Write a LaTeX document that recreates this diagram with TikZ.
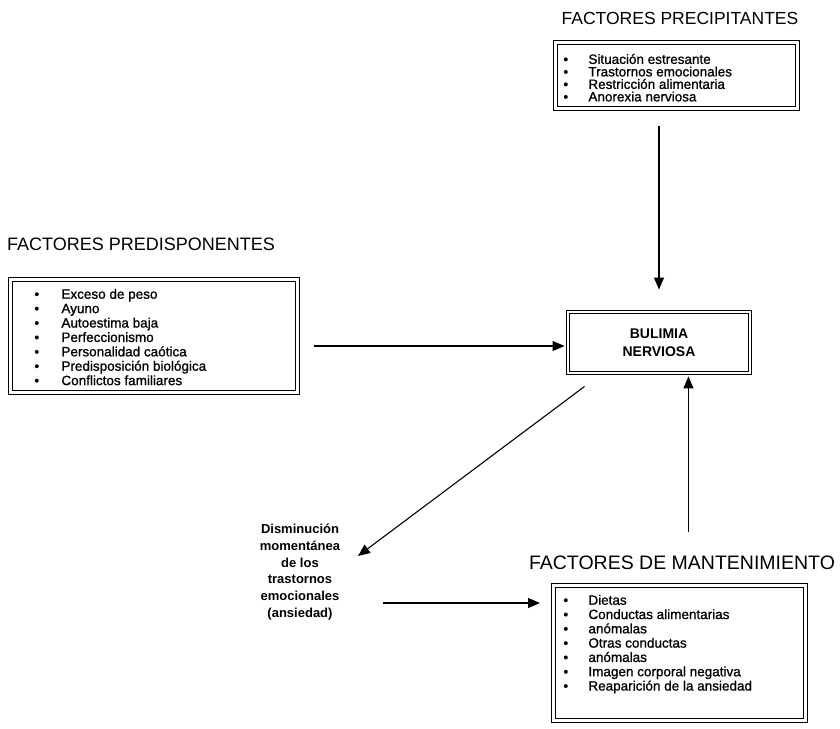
\documentclass[tikz,border=0pt]{standalone}
\usepackage{fontspec}
\setmainfont{Liberation Sans}
\newfontfamily\itemfont[FakeBold=1]{Liberation Sans}
\usetikzlibrary{arrows.meta,calc}
\newlength\itmgap
\newcommand{\itm}[1]{\makebox[\itmgap][l]{\textbullet}#1\par}
\begin{document}
\begin{tikzpicture}[x=1pt,y=-1pt,
  title/.style={inner sep=0pt},
  framed/.style={draw, line width=0.9pt, double, double distance=2.6pt},
  listbox/.style={framed, anchor=north west},
  arr/.style={line width=1.1pt, -{Triangle[length=12pt,width=10pt]}}]

\useasboundingbox[fill=white] (0,0) rectangle (840,728);

% section titles
\node[title, font=\fontsize{17.5}{20}\selectfont] (tprec) at (680,18) {FACTORES PRECIPITANTES};
\node[title, font=\fontsize{18}{20}\selectfont] (tpred) at (141,244) {FACTORES PREDISPONENTES};
\node[title, font=\fontsize{19.5}{21}\selectfont] (tmant) at (682,563) {FACTORES DE MANTENIMIENTO};

% precipitating factors
\node[listbox, inner xsep=8pt, inner ysep=11.5pt] (prec) at (555,42)
 {\begin{minipage}[c][43pt][t]{226pt}\raggedright
  \itemfont\fontsize{13.5}{12.5}\selectfont\setlength\itmgap{25pt}%
  \itm{Situación estresante}
  \itm{Trastornos emocionales}
  \itm{Restricción alimentaria}
  \itm{Anorexia nerviosa}
  \end{minipage}};

% predisposing factors
\node[listbox, inner xsep=24pt, inner ysep=9.5pt] (pred) at (10,279)
 {\begin{minipage}[c][94pt][t]{239pt}\raggedright
  \itemfont\fontsize{13.5}{14.4}\selectfont\setlength\itmgap{27pt}%
  \itm{Exceso de peso}
  \itm{Ayuno}
  \itm{Autoestima baja}
  \itm{Perfeccionismo}
  \itm{Personalidad caótica}
  \itm{Predisposición biológica}
  \itm{Conflictos familiares}
  \end{minipage}};

% maintaining factors
\node[listbox, inner xsep=10pt, inner ysep=9.5pt] (mant) at (553,585)
 {\begin{minipage}[c][116pt][t]{232pt}\raggedright
  \itemfont\fontsize{13.5}{14.3}\selectfont\setlength\itmgap{25pt}%
  \itm{Dietas}
  \itm{Conductas alimentarias}
  \itm{anómalas}
  \itm{Otras conductas}
  \itm{anómalas}
  \itm{Imagen corporal negativa}
  \itm{Reaparición de la ansiedad}
  \end{minipage}};

% central disorder
\node[framed, minimum width=182pt, minimum height=61pt, align=center,
      font=\bfseries\fontsize{14}{18}\selectfont] (bul) at (659,342.5)
 {BULIMIA\\NERVIOSA};

% short-term relief
\node[align=center, inner sep=0pt,
      font=\bfseries\fontsize{13}{16.8}\selectfont] (dism) at (300,572)
 {Disminución\\momentánea\\de los\\trastornos\\emocionales\\(ansiedad)};

% connectors
\draw[arr, shorten <=17pt, shorten >=22pt] (prec.south -| bul.north) -- (bul.north);
\draw[arr, shorten <=16pt, shorten >=3pt] ($(pred.east |- bul.west)+(0,3.5)$) -- ($(bul.west)+(0,3.5)$);
\draw[arr] ($(bul.south west)+(17,13)$) -- ($(dism.center)+(58,-16)$);
\draw[arr, shorten >=13pt] ($(dism.center)+(83,31)$) coordinate (d1) -- (d1 -| mant.west);
\draw[arr, shorten >=3pt] ($(mant.north)+(9,-53)$) coordinate (m1) -- (m1 |- bul.south);
\end{tikzpicture}
\end{document}
